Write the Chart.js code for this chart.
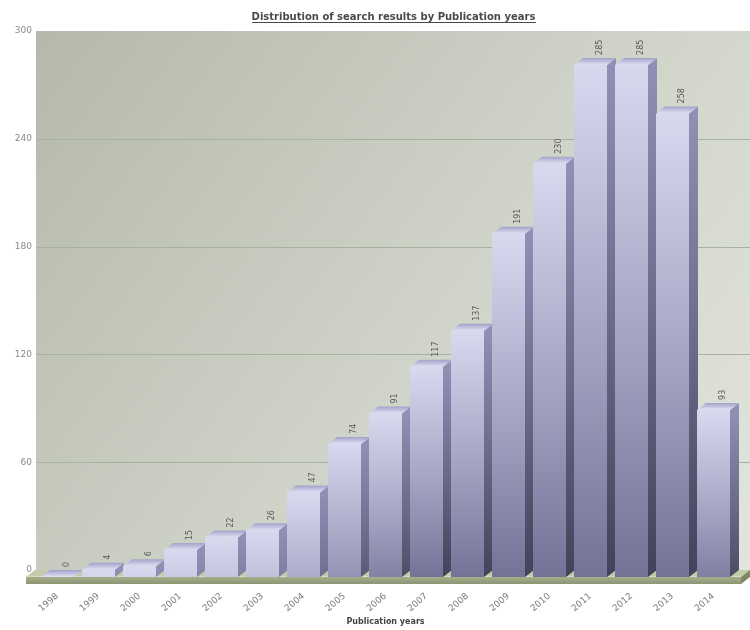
<!DOCTYPE html>
<html>
<head>
<meta charset="utf-8">
<title>Distribution of search results by Publication years</title>
<script src="https://cdn.jsdelivr.net/npm/chart.js@4.4.0/dist/chart.umd.min.js"></script>
<style>
  html, body { margin: 0; padding: 0; background: #fff; }
  #wrap { width: 750px; height: 630px; }
</style>
</head>
<body>
<div id="wrap"><canvas id="chart" width="750" height="630"></canvas></div>
<script>
const years = ["1998", "1999", "2000", "2001", "2002", "2003", "2004", "2005", "2006",
               "2007", "2008", "2009", "2010", "2011", "2012", "2013", "2014"];
const counts = [0, 4, 6, 15, 22, 26, 47, 74, 91, 117, 137, 191, 230, 285, 285, 258, 93];
const yTicks = [0, 60, 120, 180, 240, 300];
const chartTitle = "Distribution of search results by Publication years";
const axisTitle = "Publication years";

// depth of the fake 3d extrusion
const DEPTH_X = 9;
const DEPTH_Y = 7;
const FONT = "'DejaVu Sans', Verdana, sans-serif";

// shading runs down the whole bar, short bars never get fully dark
function shadeLength(top, base) {
  return Math.max(base - top, 190);
}

function frontFill(c) {
  const chart = c.chart;
  if (!chart.chartArea) return "#b0b0d0";
  const v = counts[c.dataIndex] || 0;
  const top = chart.scales.y.getPixelForValue(v);
  const base = chart.scales.y.getPixelForValue(0);
  const g = chart.ctx.createLinearGradient(0, top, 0, top + shadeLength(top, base));
  g.addColorStop(0, "#d8d8ef");
  g.addColorStop(0.5, "#a8a8c6");
  g.addColorStop(1, "#737398");
  return g;
}

function poly(ctx, pts, fill) {
  ctx.beginPath();
  ctx.moveTo(pts[0][0], pts[0][1]);
  for (let i = 1; i < pts.length; i++) ctx.lineTo(pts[i][0], pts[i][1]);
  ctx.closePath();
  ctx.fillStyle = fill;
  ctx.fill();
}

const scene3d = {
  id: "scene3d",
  beforeDatasetsDraw(chart) {
    const { ctx, chartArea: a, scales: { y } } = chart;
    ctx.save();

    // back wall
    const wl = a.left - 1, wr = chart.width, wt = a.top - DEPTH_Y, wb = a.bottom - DEPTH_Y;
    const wg = ctx.createLinearGradient(wl, wt, wr, wb);
    wg.addColorStop(0, "#b4b9ac");
    wg.addColorStop(0.5, "#ced2c6");
    wg.addColorStop(1, "#e3e5dd");
    ctx.fillStyle = wg;
    ctx.fillRect(wl, wt, wr - wl, wb - wt);

    // grid lines on the wall
    ctx.strokeStyle = "#abb1a1";
    ctx.lineWidth = 1;
    yTicks.forEach(v => {
      if (v === yTicks[0] || v === yTicks[yTicks.length - 1]) return;
      const py = Math.round(y.getPixelForValue(v) - DEPTH_Y) + 0.5;
      ctx.beginPath();
      ctx.moveTo(wl, py);
      ctx.lineTo(wr, py);
      ctx.stroke();
    });

    // floor slab
    const fy = a.bottom, fx0 = a.left - 11, fx1 = a.right + 7, th = 7;
    poly(ctx, [[fx0, fy], [fx1, fy], [fx1 + DEPTH_X, fy - DEPTH_Y], [fx0 + DEPTH_X, fy - DEPTH_Y]], "#c3cbab");
    const ff = ctx.createLinearGradient(0, fy, 0, fy + th);
    ff.addColorStop(0, "#a7ae8c");
    ff.addColorStop(1, "#8d9474");
    poly(ctx, [[fx0, fy], [fx1, fy], [fx1, fy + th], [fx0, fy + th]], ff);
    poly(ctx, [[fx1, fy], [fx1 + DEPTH_X, fy - DEPTH_Y], [fx1 + DEPTH_X, fy - DEPTH_Y + th], [fx1, fy + th]], "#7f8666");
    ctx.fillStyle = "#d6dcc2";
    ctx.fillRect(fx0, fy - 1, fx1 - fx0, 1);

    // side and top faces of the bars
    const meta = chart.getDatasetMeta(0);
    meta.data.forEach(bar => {
      const p = bar.getProps(["x", "y", "base", "width"], true);
      const x0 = p.x - p.width / 2, x1 = p.x + p.width / 2;
      const top = p.y, base = p.base;

      const sg = ctx.createLinearGradient(0, top, 0, top + shadeLength(top, base));
      sg.addColorStop(0, "#9090b6");
      sg.addColorStop(0.5, "#6a6a8a");
      sg.addColorStop(1, "#42425a");
      poly(ctx, [[x1, top], [x1 + DEPTH_X, top - DEPTH_Y], [x1 + DEPTH_X, base - DEPTH_Y], [x1, base]], sg);

      const tg = ctx.createLinearGradient(0, top, 0, top - DEPTH_Y);
      tg.addColorStop(0, "#e0e0f3");
      tg.addColorStop(1, "#a2a2ca");
      poly(ctx, [[x0, top], [x1, top], [x1 + DEPTH_X, top - DEPTH_Y], [x0 + DEPTH_X, top - DEPTH_Y]], tg);
    });
    ctx.restore();
  },
  afterDatasetsDraw(chart) {
    const { ctx } = chart;
    const meta = chart.getDatasetMeta(0);
    ctx.save();
    ctx.font = "8px " + FONT;
    ctx.fillStyle = "#5a5a5a";
    ctx.textAlign = "left";
    ctx.textBaseline = "middle";
    meta.data.forEach((bar, i) => {
      ctx.save();
      ctx.translate(bar.x + 9, bar.y - DEPTH_Y - 3);
      ctx.rotate(-Math.PI / 2);
      ctx.fillText(String(counts[i]), 0, 0);
      ctx.restore();
    });
    ctx.restore();
  },
  afterDraw(chart) {
    const { ctx, chartArea: a } = chart;
    const cx = (a.left + chart.width) / 2;
    ctx.save();
    ctx.font = "bold 10px " + FONT;
    ctx.fillStyle = "#4a4a4a";
    ctx.textAlign = "center";
    ctx.textBaseline = "middle";
    ctx.fillText(chartTitle, cx, 17);
    const w = ctx.measureText(chartTitle).width;
    ctx.fillRect(Math.round(cx - w / 2), 22, Math.round(w), 1);
    ctx.restore();
  }
};

new Chart(document.getElementById("chart"), {
  type: "bar",
  data: {
    labels: years,
    datasets: [{
      data: counts,
      backgroundColor: frontFill,
      borderWidth: 0,
      barPercentage: 1,
      categoryPercentage: 33 / 41
    }]
  },
  options: {
    responsive: false,
    animation: false,
    layout: { padding: { top: 38, right: 16, left: 0, bottom: 0 } },
    plugins: {
      legend: { display: false },
      tooltip: { enabled: false }
    },
    scales: {
      x: {
        grid: { display: false, drawTicks: false },
        border: { display: false },
        ticks: {
          minRotation: 40,
          maxRotation: 40,
          padding: 14,
          color: "#7a7a7a",
          font: { family: FONT, size: 9 }
        },
        title: {
          display: true,
          text: axisTitle,
          color: "#444",
          font: { family: FONT, size: 8, weight: "bold" },
          padding: { top: 0, bottom: 3 }
        },
        afterFit(s) { s.height = 53; }
      },
      y: {
        min: 0,
        max: 300,
        afterBuildTicks(s) { s.ticks = yTicks.map(v => ({ value: v })); },
        grid: { display: false, drawTicks: false },
        border: { display: false },
        ticks: {
          labelOffset: -DEPTH_Y,
          padding: 5,
          color: "#8a8a8a",
          font: { family: FONT, size: 9 }
        },
        afterFit(s) { s.width = 37; }
      }
    }
  },
  plugins: [scene3d]
});
</script>
</body>
</html>
